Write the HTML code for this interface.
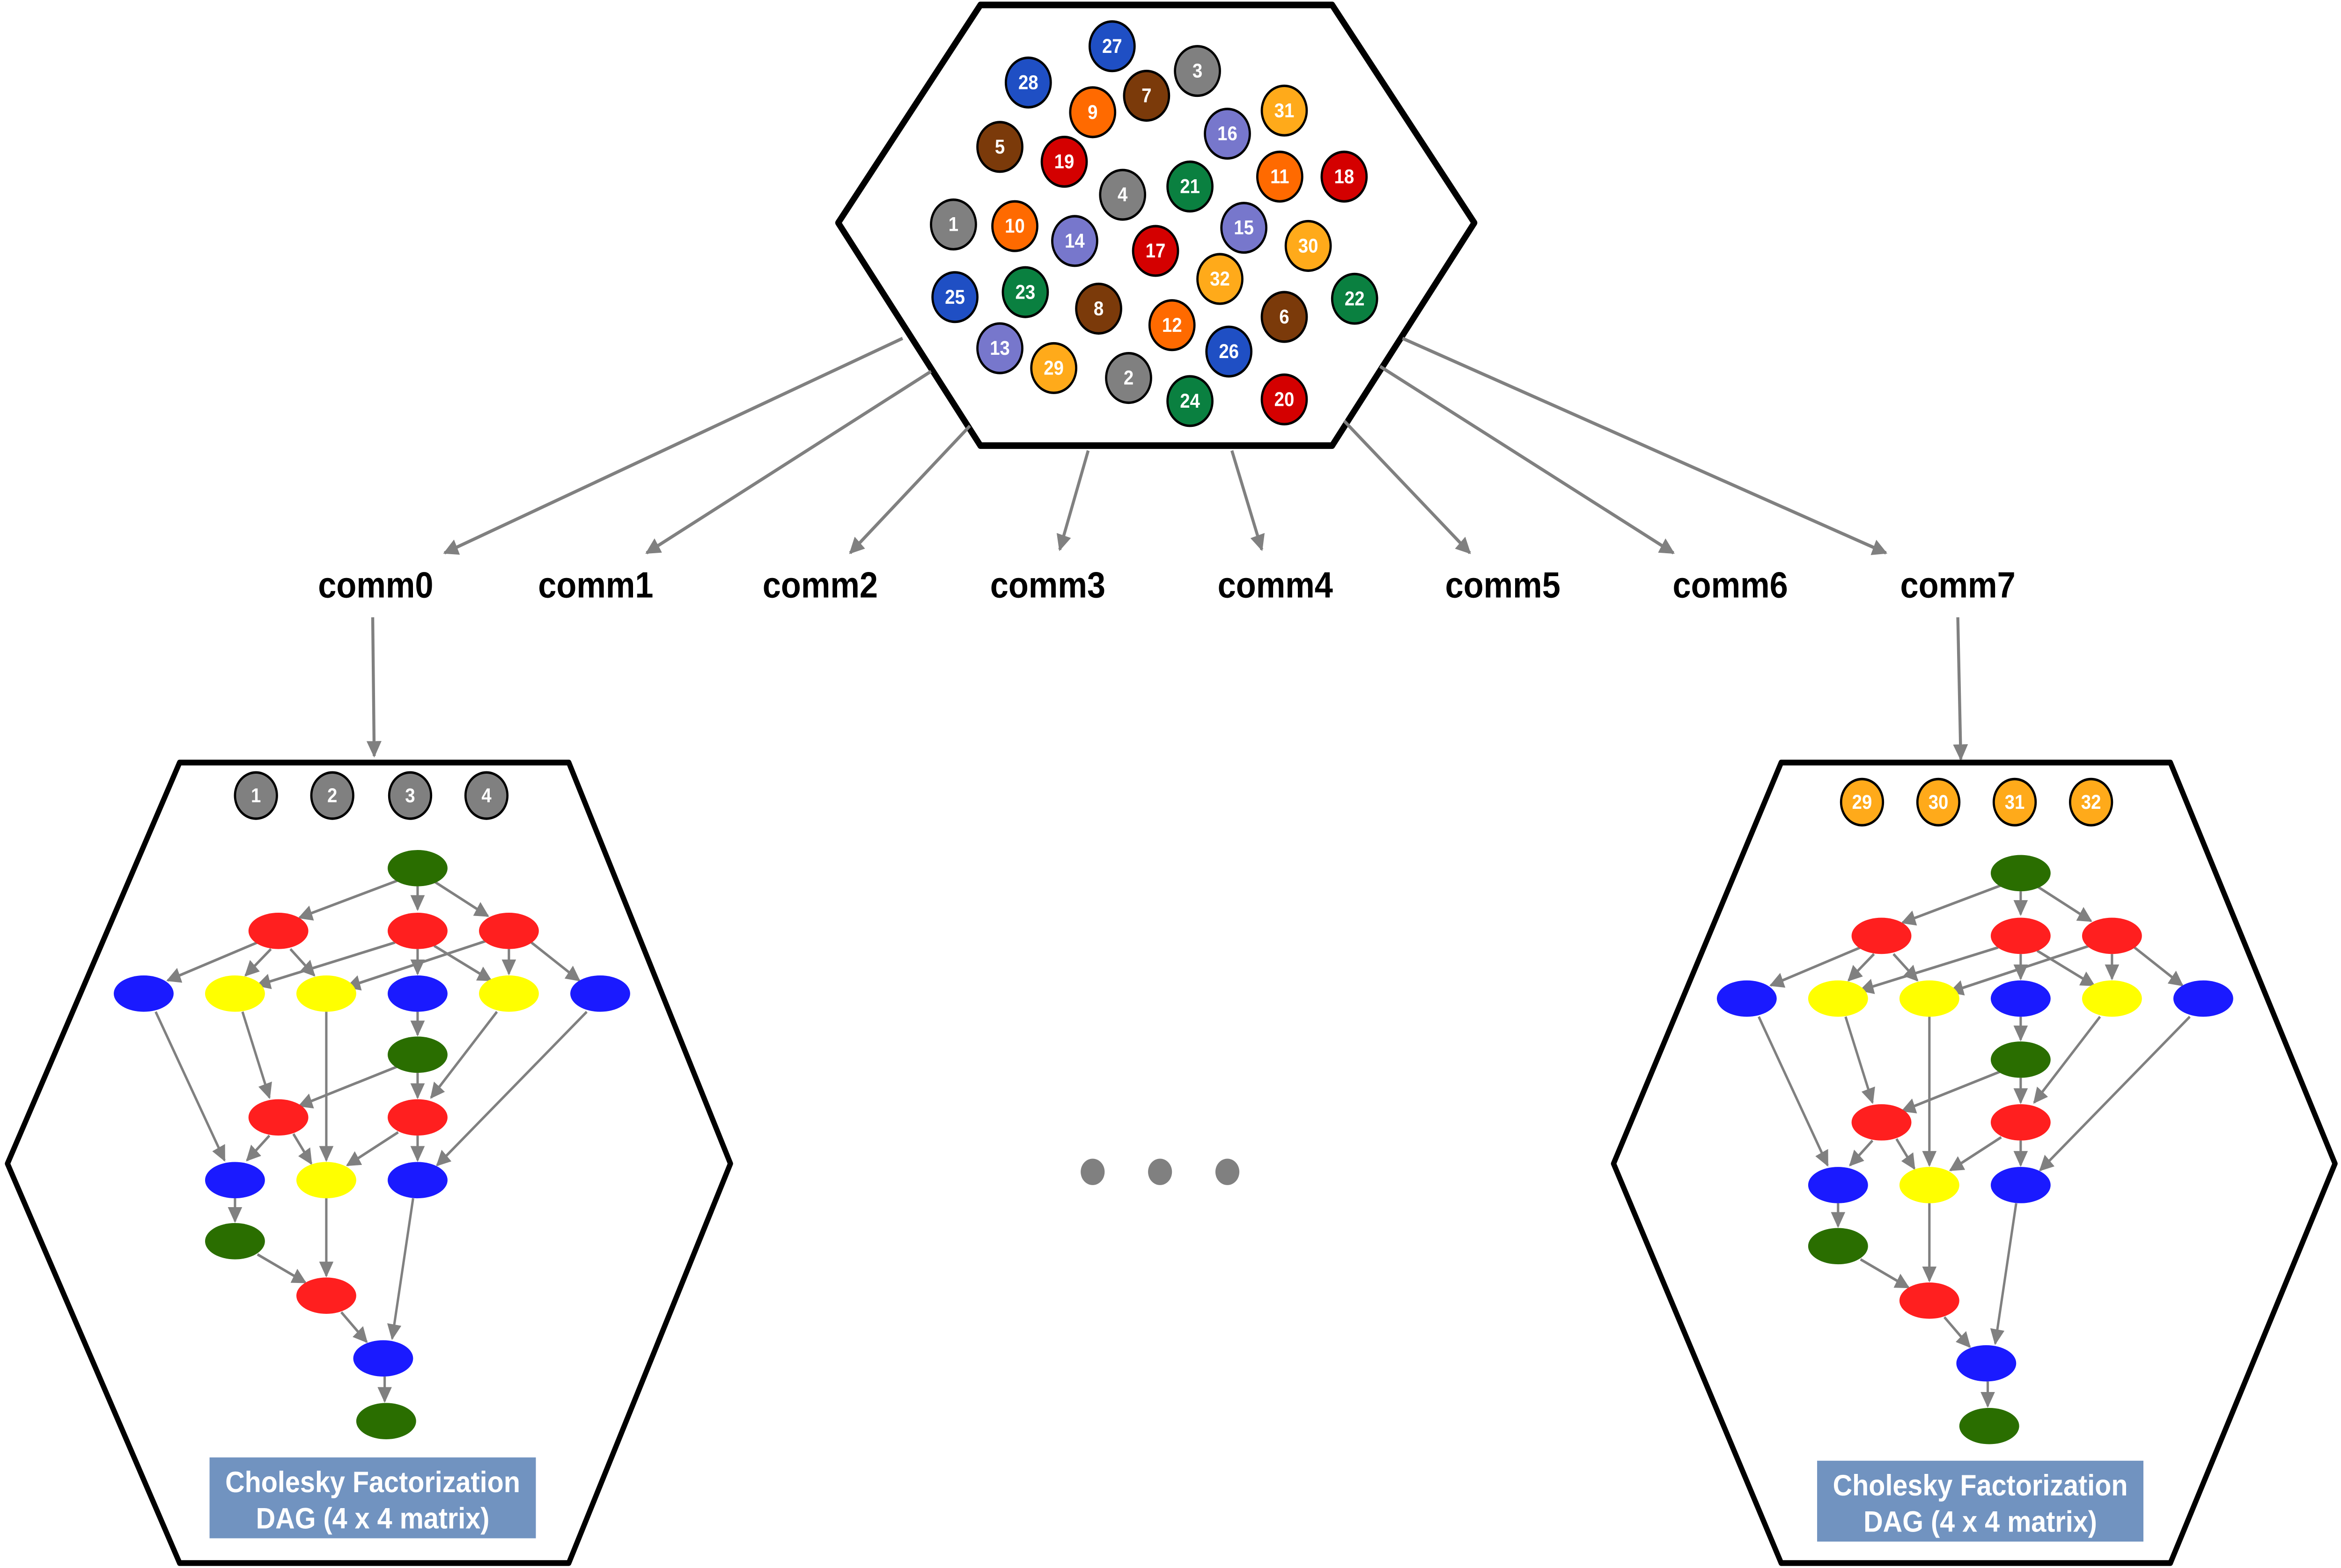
<!DOCTYPE html>
<html><head><meta charset="utf-8"><style>
html,body{margin:0;padding:0;background:#fff;width:100%;height:100%;overflow:hidden;}
svg{display:block;position:fixed;left:0;top:0;width:100vw;height:100vh;}
text{font-family:"Liberation Sans",Arial,sans-serif;}
</style></head><body>
<svg viewBox="0 0 1564 950" preserveAspectRatio="none" xmlns="http://www.w3.org/2000/svg">
<defs>
<marker id="ah" viewBox="0 0 10 10" refX="9" refY="5" markerWidth="5" markerHeight="5" orient="auto" markerUnits="strokeWidth">
<path d="M0,0 L10,5 L0,10 z" fill="#808080"/></marker>
<marker id="ah2" viewBox="0 0 10 10" refX="9" refY="5" markerWidth="6" markerHeight="6" orient="auto" markerUnits="strokeWidth">
<path d="M0,0 L10,5 L0,10 z" fill="#808080"/></marker>
<g id="dag">
<g stroke="#808080" stroke-width="1.6" fill="none" marker-end="url(#ah2)">
<line x1="270" y1="532" x2="200" y2="556"/>
<line x1="279" y1="537" x2="279" y2="551"/>
<line x1="290" y1="534" x2="326" y2="555"/>
<line x1="172" y1="571" x2="112" y2="594"/>
<line x1="181" y1="575" x2="164" y2="591"/>
<line x1="194" y1="575" x2="210" y2="591"/>
<line x1="264" y1="571" x2="172" y2="597"/>
<line x1="279" y1="575" x2="279" y2="590"/>
<line x1="290" y1="573" x2="328" y2="594"/>
<line x1="325" y1="570" x2="232" y2="598"/>
<line x1="340" y1="575" x2="340" y2="590"/>
<line x1="355" y1="571" x2="387" y2="594"/>
<line x1="279" y1="613" x2="279" y2="627"/>
<line x1="104" y1="613" x2="150" y2="703"/>
<line x1="162" y1="613" x2="180" y2="665"/>
<line x1="218" y1="613" x2="218" y2="703"/>
<line x1="332" y1="613" x2="288" y2="665"/>
<line x1="392" y1="613" x2="292" y2="706"/>
<line x1="266" y1="646" x2="200" y2="670"/>
<line x1="279" y1="650" x2="279" y2="665"/>
<line x1="180" y1="688" x2="165" y2="703"/>
<line x1="196" y1="687" x2="208" y2="705"/>
<line x1="266" y1="686" x2="232" y2="706"/>
<line x1="279" y1="688" x2="279" y2="703"/>
<line x1="157" y1="726" x2="157" y2="740"/>
<line x1="172" y1="760" x2="204" y2="777"/>
<line x1="218" y1="726" x2="218" y2="773"/>
<line x1="276" y1="726" x2="262" y2="811"/>
<line x1="228" y1="795" x2="245" y2="813"/>
<line x1="257" y1="834" x2="257" y2="849"/>
</g>
<g fill="#2a6e00"><ellipse cx="279" cy="526" rx="20" ry="11"/><ellipse cx="279" cy="639" rx="20" ry="11"/><ellipse cx="157" cy="752" rx="20" ry="11"/><ellipse cx="258" cy="861" rx="20" ry="11"/></g>
<g fill="#ff1f1f"><ellipse cx="186" cy="564" rx="20" ry="11"/><ellipse cx="279" cy="564" rx="20" ry="11"/><ellipse cx="340" cy="564" rx="20" ry="11"/><ellipse cx="186" cy="677" rx="20" ry="11"/><ellipse cx="279" cy="677" rx="20" ry="11"/><ellipse cx="218" cy="785" rx="20" ry="11"/></g>
<g fill="#1a1aff"><ellipse cx="96" cy="602" rx="20" ry="11"/><ellipse cx="279" cy="602" rx="20" ry="11"/><ellipse cx="401" cy="602" rx="20" ry="11"/><ellipse cx="157" cy="715" rx="20" ry="11"/><ellipse cx="279" cy="715" rx="20" ry="11"/><ellipse cx="256" cy="823" rx="20" ry="11"/></g>
<g fill="#ffff00"><ellipse cx="157" cy="602" rx="20" ry="11"/><ellipse cx="218" cy="602" rx="20" ry="11"/><ellipse cx="340" cy="602" rx="20" ry="11"/><ellipse cx="218" cy="715" rx="20" ry="11"/></g>
</g>
</defs>
<polygon points="560,135 655,3 890,3 985,135 890,270 655,270" fill="#fff" stroke="#000" stroke-width="4" stroke-linejoin="round"/>
<g stroke="#000" stroke-width="1.5">
<g fill="#1f4fc4"><circle cx="743" cy="28" r="15"/><circle cx="687" cy="50" r="15"/><circle cx="638" cy="180" r="15"/><circle cx="821" cy="213" r="15"/></g>
<g fill="#808080"><circle cx="800" cy="43" r="15"/><circle cx="750" cy="118" r="15"/><circle cx="637" cy="136" r="15"/><circle cx="754" cy="229" r="15"/></g>
<g fill="#ff6a00"><circle cx="730" cy="68" r="15"/><circle cx="855" cy="107" r="15"/><circle cx="678" cy="137" r="15"/><circle cx="783" cy="197" r="15"/></g>
<g fill="#7b3a0a"><circle cx="766" cy="58" r="15"/><circle cx="668" cy="89" r="15"/><circle cx="734" cy="187" r="15"/><circle cx="858" cy="192" r="15"/></g>
<g fill="#d40000"><circle cx="711" cy="98" r="15"/><circle cx="898" cy="107" r="15"/><circle cx="772" cy="152" r="15"/><circle cx="858" cy="242" r="15"/></g>
<g fill="#7777cc"><circle cx="820" cy="81" r="15"/><circle cx="718" cy="146" r="15"/><circle cx="831" cy="138" r="15"/><circle cx="668" cy="211" r="15"/></g>
<g fill="#0a8040"><circle cx="795" cy="113" r="15"/><circle cx="685" cy="177" r="15"/><circle cx="905" cy="181" r="15"/><circle cx="795" cy="243" r="15"/></g>
<g fill="#ffaa1a"><circle cx="858" cy="67" r="15"/><circle cx="874" cy="149" r="15"/><circle cx="815" cy="169" r="15"/><circle cx="704" cy="223" r="15"/></g>
</g>
<g font-size="12" font-weight="bold" text-anchor="middle" fill="#fff">
<text x="743" y="32">27</text><text x="687" y="54">28</text><text x="638" y="184">25</text><text x="821" y="217">26</text>
<text x="800" y="47">3</text><text x="750" y="122">4</text><text x="637" y="140">1</text><text x="754" y="233">2</text>
<text x="730" y="72">9</text><text x="855" y="111">11</text><text x="678" y="141">10</text><text x="783" y="201">12</text>
<text x="766" y="62">7</text><text x="668" y="93">5</text><text x="734" y="191">8</text><text x="858" y="196">6</text>
<text x="711" y="102">19</text><text x="898" y="111">18</text><text x="772" y="156">17</text><text x="858" y="246">20</text>
<text x="820" y="85">16</text><text x="718" y="150">14</text><text x="831" y="142">15</text><text x="668" y="215">13</text>
<text x="795" y="117">21</text><text x="685" y="181">23</text><text x="905" y="185">22</text><text x="795" y="247">24</text>
<text x="858" y="71">31</text><text x="874" y="153">30</text><text x="815" y="173">32</text><text x="704" y="227">29</text>
</g>
<g stroke="#808080" stroke-width="2" marker-end="url(#ah)">
<line x1="603" y1="205" x2="297" y2="335"/>
<line x1="622" y1="225" x2="432" y2="335"/>
<line x1="648" y1="258" x2="568" y2="335"/>
<line x1="727" y1="273" x2="708" y2="333"/>
<line x1="823" y1="273" x2="843" y2="333"/>
<line x1="898" y1="255" x2="982" y2="335"/>
<line x1="922" y1="222" x2="1118" y2="335"/>
<line x1="937" y1="205" x2="1260" y2="335"/>
<line x1="249" y1="374" x2="250" y2="458"/>
<line x1="1308" y1="374" x2="1310" y2="460"/>
</g>
<g font-size="22" font-weight="bold" text-anchor="middle" fill="#000">
<text x="251" y="362">comm0</text><text x="398" y="362">comm1</text><text x="548" y="362">comm2</text><text x="700" y="362">comm3</text>
<text x="852" y="362">comm4</text><text x="1004" y="362">comm5</text><text x="1156" y="362">comm6</text><text x="1308" y="362">comm7</text>
</g>
<polygon points="5,705 120,462 380,462 488,705 380,947 120,947" fill="#fff" stroke="#000" stroke-width="3.5" stroke-linejoin="round"/>
<polygon points="1078,705 1190,462 1450,462 1560,705 1450,947 1190,947" fill="#fff" stroke="#000" stroke-width="3.5" stroke-linejoin="round"/>
<g stroke="#000" stroke-width="1.5">
<g fill="#808080"><circle cx="171" cy="482" r="14"/><circle cx="222" cy="482" r="14"/><circle cx="274" cy="482" r="14"/><circle cx="325" cy="482" r="14"/></g>
<g fill="#ffaa1a"><circle cx="1244" cy="486" r="14"/><circle cx="1295" cy="486" r="14"/><circle cx="1346" cy="486" r="14"/><circle cx="1397" cy="486" r="14"/></g>
</g>
<g font-size="12" font-weight="bold" text-anchor="middle" fill="#fff">
<text x="171" y="486">1</text><text x="222" y="486">2</text><text x="274" y="486">3</text><text x="325" y="486">4</text>
<text x="1244" y="490">29</text><text x="1295" y="490">30</text><text x="1346" y="490">31</text><text x="1397" y="490">32</text>
</g>
<use href="#dag"/>
<use href="#dag" transform="translate(1071,3)"/>
<rect x="140" y="883" width="218" height="49" fill="#7193c0"/>
<rect x="1214" y="885" width="218" height="49" fill="#7193c0"/>
<g font-size="18" font-weight="bold" text-anchor="middle" fill="#fff">
<text x="249" y="904">Cholesky Factorization</text><text x="249" y="926">DAG (4 x 4 matrix)</text>
<text x="1323" y="906">Cholesky Factorization</text><text x="1323" y="928">DAG (4 x 4 matrix)</text>
</g>
<g fill="#808080"><circle cx="730" cy="710" r="8"/><circle cx="775" cy="710" r="8"/><circle cx="820" cy="710" r="8"/></g>
</svg>
</body></html>
